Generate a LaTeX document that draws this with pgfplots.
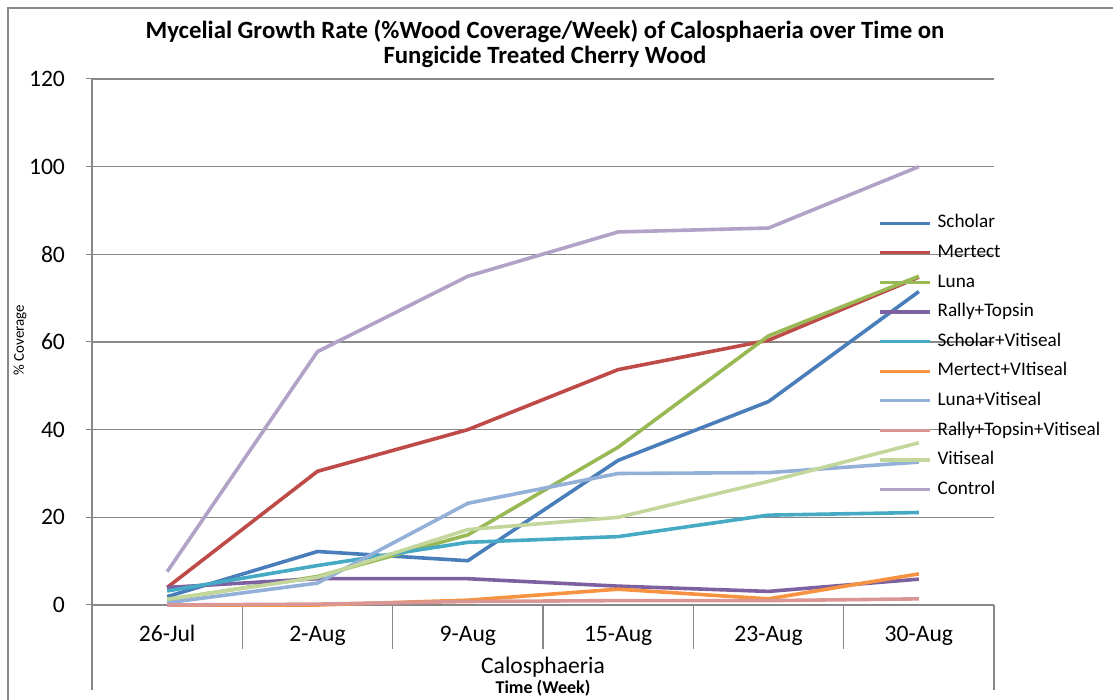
\documentclass[border=0pt]{standalone}
\usepackage{pgfplots}
\usepackage{pgfplotstable}
\pgfplotsset{compat=1.18}
\usepackage{fontspec}
\setmainfont{Carlito}

\definecolor{cScholar}{HTML}{4A7EBB}
\definecolor{cMertect}{HTML}{BE4B48}
\definecolor{cLuna}{HTML}{98B954}
\definecolor{cRally}{HTML}{7D60A0}
\definecolor{cScholarV}{HTML}{46AAC5}
\definecolor{cMertectV}{HTML}{F69240}
\definecolor{cLunaV}{HTML}{93B0D8}
\definecolor{cRallyV}{HTML}{D99694}
\definecolor{cVitiseal}{HTML}{C3D69B}
\definecolor{cControl}{HTML}{B3A2C7}
\definecolor{framegray}{HTML}{888888}

% week index, % coverage
\pgfplotstableread{
x scholar mertect luna rally scholarv mertectv lunav rallyv vitiseal control
0 1.9  4.0  1.2  4.0 3.2  0.0 0.5  0.0 1.3  7.6
1 12.2 30.5 6.5  6.0 9.0  0.0 5.0  0.2 6.3  57.8
2 10.1 40.0 16.0 6.0 14.3 1.1 23.2 0.8 17.2 75.0
3 33.0 53.7 36.0 4.3 15.6 3.6 30.0 1.0 20.0 85.1
4 46.4 60.4 61.4 3.1 20.5 1.4 30.2 1.0 28.2 86.0
5 71.5 74.8 75.0 5.9 21.1 7.1 32.6 1.4 37.0 100.0
}\datatable

\begin{document}
% 1 px of the 1113x700 image = 0.5pt, y counted from the bottom
\begin{tikzpicture}
\begin{scope}[x=0.5pt,y=0.5pt]
\path[use as bounding box] (0,0) rectangle (1113,700);
\draw[framegray, line width=0.8pt] (8,0) -- (8,692) -- (1113,692);
\node[font=\bfseries\fontsize{12.4}{12.2}\selectfont, align=center] at (545,656)
  {Mycelial Growth Rate (\%Wood Coverage/Week) of Calosphaeria over Time on\\Fungicide Treated Cherry Wood};
\node[rotate=90, font=\fontsize{7.5}{9}\selectfont] at (20,360) {\% Coverage};
\node[font=\fontsize{11.8}{14}\selectfont] at (543,33) {Calosphaeria};
\node[font=\bfseries\fontsize{9}{11}\selectfont] at (543,12) {Time (Week)};
\end{scope}

\begin{axis}[
  at={(46pt,47.5pt)}, anchor=south west,
  width=451pt, height=263pt, scale only axis,
  xmin=-0.5, xmax=5.5, ymin=0, ymax=120,
  clip=false,
  axis line style={draw=none},
  xtick={0,...,5},
  xticklabels={26-Jul,2-Aug,9-Aug,15-Aug,23-Aug,30-Aug},
  x tick style={draw=none},
  xticklabel style={anchor=base, yshift=-15.5pt, font=\fontsize{11.8}{13}\selectfont},
  ytick={0,20,...,120},
  ytick pos=left, tick align=outside, major tick length=3pt,
  y tick style={draw=framegray, line width=0.5pt},
  yticklabel style={anchor=east, xshift=-7pt, font=\fontsize{11.8}{13}\selectfont},
  /pgf/number format/assume math mode=true,
  ymajorgrids, grid style={framegray, line width=0.55pt},
  no markers,
  every axis plot/.append style={line width=1.8pt, line join=round},
  legend style={at={(0.8714,0.7548)}, anchor=north west, draw=none, fill=none,
    font=\fontsize{9.6}{11}\selectfont, inner sep=0pt,
    nodes={text height=6.8pt, text depth=2pt, inner sep=3pt}, row sep=0pt},
  legend cell align=left,
  legend image code/.code={\draw[#1, line width=1.6pt] (0pt,0pt) -- (25pt,0pt);},
]
\draw[framegray, line width=0.55pt] (axis cs:-0.5,120) -- (axis cs:-0.5,-19.4);
\draw[framegray, line width=0.55pt] (axis cs:5.5,0) -- (axis cs:5.5,-19.4);
\pgfplotsinvokeforeach{0.5,1.5,2.5,3.5,4.5}{
  \draw[framegray, line width=0.55pt] (axis cs:#1,0) -- (axis cs:#1,-10);
}

\addplot[cScholar]  table[y=scholar]  {\datatable};
\addlegendentry{Scholar}
\addplot[cMertect]  table[y=mertect]  {\datatable};
\addlegendentry{Mertect}
\addplot[cLuna]     table[y=luna]     {\datatable};
\addlegendentry{Luna}
\addplot[cRally]    table[y=rally]    {\datatable};
\addlegendentry{Rally+Topsin}
\addplot[cScholarV] table[y=scholarv] {\datatable};
\addlegendentry{Scholar+Vitiseal}
\addplot[cMertectV] table[y=mertectv] {\datatable};
\addlegendentry{Mertect+VItiseal}
\addplot[cLunaV]    table[y=lunav]    {\datatable};
\addlegendentry{Luna+Vitiseal}
\addplot[cRallyV]   table[y=rallyv]   {\datatable};
\addlegendentry{Rally+Topsin+Vitiseal}
\addplot[cVitiseal] table[y=vitiseal] {\datatable};
\addlegendentry{Vitiseal}
\addplot[cControl]  table[y=control]  {\datatable};
\addlegendentry{Control}
\end{axis}
\end{tikzpicture}
\end{document}
